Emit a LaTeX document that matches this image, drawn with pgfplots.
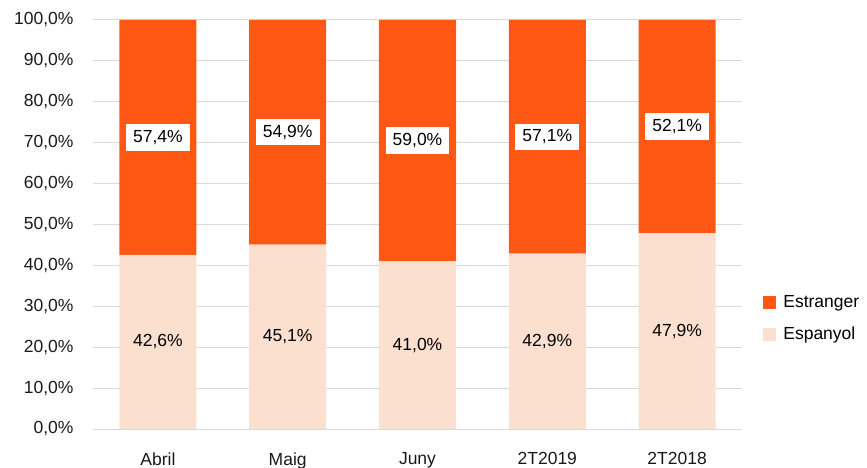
\documentclass[border=0pt]{standalone}
\usepackage{pgfplots}
\usepackage{pgfplotstable}
\pgfplotsset{compat=1.18}
\usepackage{fontspec}
\setmainfont{Liberation Sans}
\definecolor{est}{HTML}{FF5714}
\definecolor{esp}{HTML}{FBE0D0}
\definecolor{gridc}{HTML}{D9D9D9}
\pgfplotstableread{
x cat esp est
0 Abril 42.6 57.4
1 Maig 45.1 54.9
2 Juny 41.0 59.0
3 2T2019 42.9 57.1
4 2T2018 47.9 52.1
}\data
\begin{document}
\begin{tikzpicture}[font=\fontsize{17.5bp}{21bp}\selectfont]
\useasboundingbox (-93bp,-39bp) rectangle (774bp,429bp);
\pgfplotsset{
  common/.style={
    scale only axis, width=649bp, height=409bp,
    xmin=-0.5, xmax=4.5, ymin=0, ymax=100,
    at={(0,0)}, anchor=south west,
    /pgf/number format/assume math mode=true,
  },
  sq/.style={legend image code/.code={\fill[draw=none,fill=#1] (0bp,-6.5bp) rectangle (13bp,6.5bp);}},
}
\begin{axis}[common,
  ybar stacked, bar width=77bp,
  axis lines*=left,
  y axis line style={draw=none},
  x axis line style={draw=gridc, line width=1bp},
  tick style={draw=none},
  ymajorgrids, grid style={draw=gridc, line width=1bp},
  ytick={0,10,...,100},
  yticklabel={\pgfmathprintnumber[fixed,fixed zerofill,precision=1,use comma]{\tick}\%},
  xtick=data, xticklabels={Abril,Maig,Juny,2T2019,2T2018},
  yticklabel style={xshift=-16bp, text=black!90},
  xticklabel style={yshift=-20bp, text=black!90},
  legend style={at={(rel axis cs:1.028,0.27)}, anchor=west, draw=none, fill=none,
    row sep=14bp, column sep=5bp, font=\fontsize{17.5bp}{21bp}\selectfont},
  reverse legend,
  legend cell align=left,
]
\addplot[fill=esp, draw=none, sq=esp] table[x=x, y=esp]{\data};
\addlegendentry{Espanyol}
\addplot[fill=est, draw=none, sq=est] table[x=x, y=est]{\data};
\addlegendentry{Estranger}
\end{axis}
\begin{axis}[common, hide axis, clip=false]
\addplot[only marks, mark=none, point meta=explicit,
  nodes near coords={\pgfmathprintnumber[fixed,fixed zerofill,precision=1,use comma]{\pgfplotspointmeta}\%},
  nodes near coords align=center,
  nodes near coords style={anchor=center, text=black}]
  table[x=x, y expr=\thisrow{esp}/2, meta=esp]{\data};
\addplot[only marks, mark=none, point meta=explicit,
  nodes near coords={\pgfmathprintnumber[fixed,fixed zerofill,precision=1,use comma]{\pgfplotspointmeta}\%},
  nodes near coords align=center,
  nodes near coords style={anchor=center, fill=white, text=black, inner xsep=7bp, inner ysep=6bp}]
  table[x=x, y expr=\thisrow{esp}+\thisrow{est}/2, meta=est]{\data};
\end{axis}
\end{tikzpicture}
\end{document}
